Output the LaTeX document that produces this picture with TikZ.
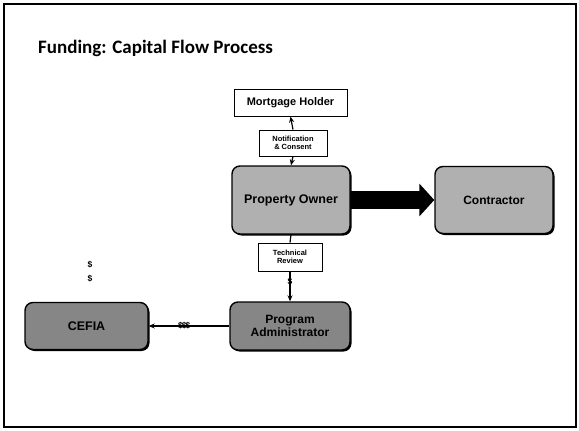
\documentclass[tikz,border=0pt]{standalone}
\usepackage{fontspec}
\setmainfont{Liberation Sans}
\newfontfamily\titlefont{Carlito}
\usetikzlibrary{arrows.meta,shadows}

\definecolor{ownergray}{HTML}{B0B0B0}
\definecolor{admingray}{HTML}{868686}

\begin{document}
\begin{tikzpicture}[x=1pt,y=-1pt,
  whitebox/.style={draw, line width=1pt, fill=white, inner sep=0pt, align=center,
    font=\bfseries,
    drop shadow={shadow xshift=1.2pt, shadow yshift=-1.2pt, fill=black, opacity=1}},
  graybox/.style={draw, line width=1.4pt, rounded corners=8pt, inner sep=0pt,
    align=center, font=\bfseries,
    drop shadow={shadow xshift=1.5pt, shadow yshift=-1.5pt, fill=black, opacity=1}},
  link/.style={line width=1.2pt},
  linkarrow/.style={line width=1.2pt, -{Stealth[length=6pt,width=5pt]}},
  money/.style={font=\bfseries\fontsize{8.5}{8.5}\selectfont, inner sep=0pt},
]
\useasboundingbox (0,0) rectangle (579,431);

% slide frame
\draw[line width=1.8pt] (4,4) rectangle (576,427);

% title
\node[anchor=base west, inner sep=0pt, font=\titlefont\bfseries\fontsize{19}{19}\selectfont]
  (title) at (38,53) {Funding: Capital Flow Process};

% boxes
\node[whitebox, minimum width=113pt, minimum height=27pt,
  font=\bfseries\fontsize{11}{12}\selectfont] (mh) at (290.5,102.5) {Mortgage Holder};
\node[whitebox, minimum width=68pt, minimum height=26pt,
  font=\bfseries\fontsize{7.5}{8.5}\selectfont] (nc) at (293,143) {Notification\\\& Consent};
\node[graybox, fill=ownergray, minimum width=118pt, minimum height=68pt,
  font=\bfseries\fontsize{12.5}{14}\selectfont] (po) at (291,200) {Property Owner};
\node[graybox, fill=ownergray, minimum width=118pt, minimum height=67pt,
  font=\bfseries\fontsize{12}{14}\selectfont] (co) at (494,200) {Contractor};
\node[whitebox, minimum width=64pt, minimum height=28pt,
  font=\bfseries\fontsize{7.5}{8.5}\selectfont] (tr) at (290,257) {Technical\\Review};
\node[graybox, fill=admingray, minimum width=120pt, minimum height=48pt,
  font=\bfseries\fontsize{12}{13.5}\selectfont] (pa) at (290,326) {Program\\Administrator};
\node[graybox, fill=admingray, minimum width=123pt, minimum height=47pt,
  font=\bfseries\fontsize{12.5}{14}\selectfont] (ce) at (86.5,326) {CEFIA};

% connectors
\draw[linkarrow] (nc.north) -- (mh.south);
\draw[linkarrow] (nc.south) -- (po.north);
\draw[link] (po.south) -- (tr.north);
\draw[linkarrow] (tr.south) -- node[money, pos=0.35] (trmoney) {\$} (pa.north);
\draw[linkarrow] (pa.west) -- node[money, pos=0.56] (pamoney) {\$\kern-1pt\$\kern-1pt\$} (ce.east);

% funds flowing to the contractor
\draw[line width=18pt, -{Triangle[length=15pt,width=32pt]}] (po.east) -- (co.west);

% dollar marks beside CEFIA
\node[money] (d1) at (90,265) {\$};
\node[money] (d2) at (90,279) {\$};
\end{tikzpicture}
\end{document}
